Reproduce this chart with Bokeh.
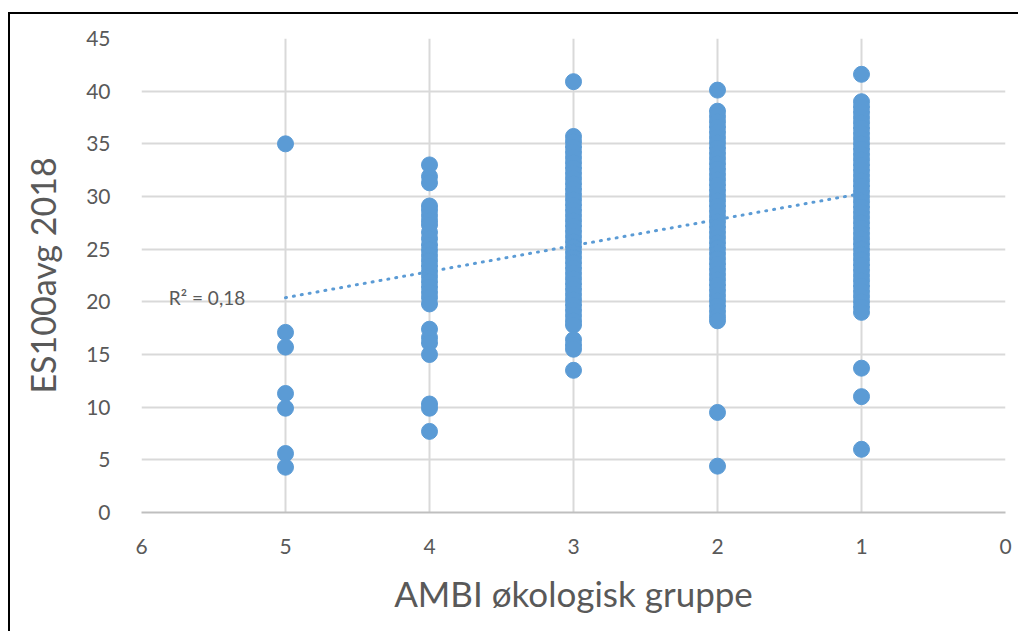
from bokeh.plotting import figure
from bokeh.models import Range1d, FixedTicker, ColumnDataSource, Label
from bokeh.embed import file_html
from bokeh.resources import INLINE

# ---- data ----
groups = [5, 4, 3, 2, 1]
es_g5 = [35.0, 17.1, 15.7, 11.3, 9.9, 5.6, 4.3]
es_g4 = [33.0, 31.9, 31.3, 29.1, 28.7, 28.2, 27.7, 27.3, 26.6, 26.0, 25.4,
         24.9, 24.4, 23.9, 23.4, 22.9, 22.4, 21.9, 21.4, 20.9, 20.4, 19.8,
         17.4, 16.6, 16.1, 15.0, 10.3, 9.9, 7.7]
es_g3 = [40.9, 35.7, 35.2, 34.7, 34.2, 33.7, 33.2, 32.7, 32.2, 31.7, 31.2,
         30.7, 30.2, 29.7, 29.2, 28.7, 28.2, 27.7, 27.2, 26.7, 26.2, 25.7,
         25.2, 24.7, 24.2, 23.7, 23.2, 22.7, 22.2, 21.7, 21.2, 20.7, 20.2,
         19.7, 19.2, 18.7, 18.2, 17.8, 16.4, 15.9, 15.5, 13.5]
es_g2 = [40.1, 38.1, 37.6, 37.1, 36.6, 36.1, 35.6, 35.1, 34.6, 34.1, 33.6,
         33.1, 32.6, 32.1, 31.6, 31.1, 30.6, 30.1, 29.6, 29.1, 28.6, 28.1,
         27.6, 27.1, 26.6, 26.1, 25.6, 25.1, 24.6, 24.1, 23.6, 23.1, 22.6,
         22.1, 21.6, 21.1, 20.6, 20.1, 19.6, 19.1, 18.6, 18.2, 9.5, 4.4]
es_g1 = [41.6, 39.0, 38.5, 38.0, 37.5, 37.0, 36.5, 36.0, 35.5, 35.0, 34.5,
         34.0, 33.5, 33.0, 32.5, 32.0, 31.5, 31.0, 30.5, 30.0, 29.5, 29.0,
         28.5, 28.0, 27.5, 27.0, 26.5, 26.0, 25.5, 25.0, 24.5, 24.0, 23.5,
         23.0, 22.5, 22.0, 21.5, 21.0, 20.5, 20.0, 19.5, 19.0, 13.7, 11.0, 6.0]
trend_slope = -2.47
trend_intercept = 32.75
r2_label = "R\u00b2 = 0,18"
x_ticks = [0, 1, 2, 3, 4, 5, 6]
y_ticks = [0, 5, 10, 15, 20, 25, 30, 35, 40, 45]

xs, ys = [], []
for g, vals in zip(groups, [es_g5, es_g4, es_g3, es_g2, es_g1]):
    xs += [g] * len(vals)
    ys += vals
src = ColumnDataSource(dict(x=xs, y=ys))

FONT = "Lato"
GRAY = "#595959"
BLUE = "#5B9BD5"

p = figure(width=1010, height=619, output_backend="svg", toolbar_location=None,
           x_range=Range1d(6, 0), y_range=Range1d(0, 45),
           min_border_left=131, min_border_right=15, min_border_top=24,
           min_border_bottom=121, margin=(12, 0, 0, 8),
           styles={"border-left": "2px solid black", "border-top": "2px solid black"})
p.outline_line_color = None

p.xaxis.ticker = FixedTicker(ticks=x_ticks)
p.yaxis.ticker = FixedTicker(ticks=y_ticks)
for ax in (p.xaxis, p.yaxis):
    ax.major_tick_line_color = None
    ax.minor_tick_line_color = None
    ax.major_label_text_font = FONT
    ax.major_label_text_font_size = "21px"
    ax.major_label_text_color = GRAY
    ax.axis_label_text_font = FONT
    ax.axis_label_text_font_style = "normal"
    ax.axis_label_text_color = GRAY
    ax.axis_label_text_font_size = "34px"
p.xaxis.axis_label_text_font_size = "35px"
p.yaxis.axis_line_color = None
p.xaxis.axis_line_color = "#BFBFBF"
p.xaxis.axis_line_width = 2
p.xaxis.major_label_standoff = 20
p.yaxis.major_label_standoff = 25
p.xaxis.axis_label = "AMBI økologisk gruppe"
p.yaxis.axis_label = "ES100avg 2018"
p.xaxis.axis_label_standoff = 15
p.yaxis.axis_label_standoff = 20

p.xgrid.grid_line_color = "#D9D9D9"
p.ygrid.grid_line_color = "#D9D9D9"
p.xgrid.grid_line_width = 2
p.ygrid.grid_line_width = 2

p.scatter("x", "y", source=src, size=16, color=BLUE, line_color=BLUE)

tx = [max(groups), min(groups)]
ty = [trend_intercept + trend_slope * v for v in tx]
p.line(tx, ty, line_color=BLUE, line_width=3, line_dash="1 7", line_cap="round")

p.add_layout(Label(x=5.81, y=ty[0], text=r2_label, text_font=FONT,
                   text_font_size="19px", text_color=GRAY, text_baseline="middle"))

open("out.html", "w").write(file_html(p, INLINE))
